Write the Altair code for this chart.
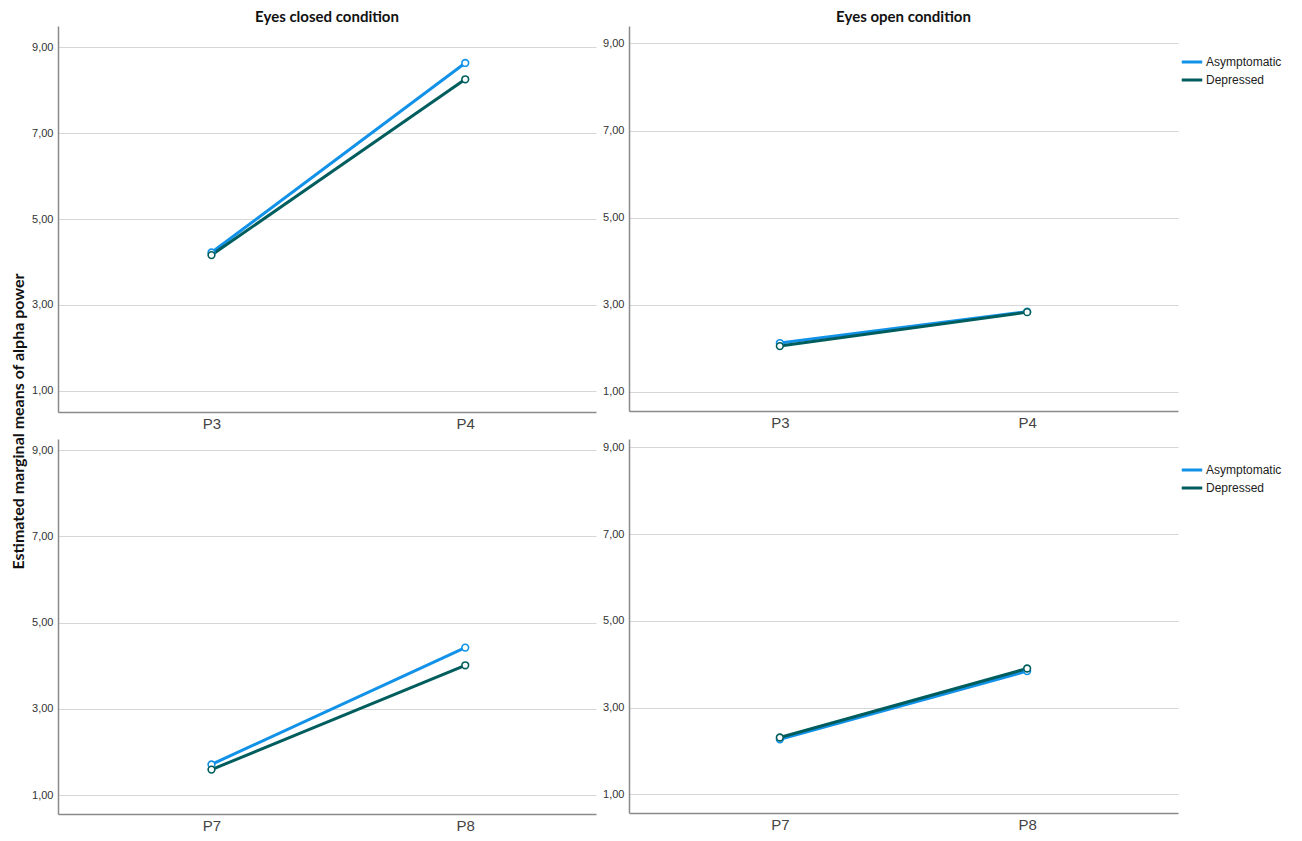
import altair as alt
import pandas as pd

groups = ["Asymptomatic", "Depressed"]
colors = ["#1192e8", "#005d5d"]
conditions = ["Eyes closed condition", "Eyes open condition"]
sites_top = ["P3", "P4"]
sites_bottom = ["P7", "P8"]
y_ticks = [1, 3, 5, 7, 9]
y_title = "Estimated marginal means of alpha power"

closed_p34_asym = [4.22, 8.63]
closed_p34_dep = [4.16, 8.25]
open_p34_asym = [2.12, 2.84]
open_p34_dep = [2.05, 2.83]
closed_p78_asym = [1.71, 4.42]
closed_p78_dep = [1.59, 4.01]
open_p78_asym = [2.27, 3.84]
open_p78_dep = [2.31, 3.90]


def make_df(sites, asym, dep):
    rows = []
    for g, vals in zip(groups, [asym, dep]):
        for s, v in zip(sites, vals):
            rows.append({"site": s, "group": g, "value": v})
    return pd.DataFrame(rows)


def panel(df, sites, domain, width, height, title=None, legend_y=None, pad=0.6, align=0.5):
    if legend_y is None:
        legend = None
    else:
        legend = alt.Legend(
            title=None, orient="none", legendX=width + 2, legendY=legend_y,
            symbolType="stroke", symbolSize=420, symbolStrokeWidth=3,
            labelFont="Liberation Sans", labelFontSize=12, labelColor="#222",
            rowPadding=0, labelOffset=2, padding=0,
        )
    color = alt.Color("group:N", scale=alt.Scale(domain=groups, range=colors), legend=legend)
    x = alt.X(
        "site:N",
        sort=sites,
        scale=alt.Scale(type="point", domain=sites, padding=pad, align=align),
        axis=alt.Axis(title=None, labelAngle=0, grid=False, ticks=False,
                      labelFontSize=15, labelColor="#444", labelPadding=4,
                      labelFont="Liberation Sans", domainColor="#8a8a8a", domainWidth=1.5),
    )
    y = alt.Y(
        "value:Q",
        scale=alt.Scale(domain=domain, nice=False, zero=False),
        axis=alt.Axis(title=None, values=y_ticks, ticks=False, grid=True,
                      labelExpr="replace(format(datum.value, '.2f'), '.', ',')",
                      labelFontSize=11, labelColor="#333", labelPadding=5,
                      labelFont="Liberation Sans", gridColor="#d6d6d6", gridWidth=1.2,
                      domainColor="#8a8a8a", domainWidth=1.5),
    )
    base = alt.Chart(df).encode(x=x, y=y, color=color)
    lines = base.mark_line(strokeWidth=3)
    pts = base.mark_point(filled=False, fill="white", size=45, strokeWidth=1.6, opacity=1)
    props = dict(width=width, height=height)
    if title:
        props["title"] = alt.TitleParams(title, font="Lato", fontSize=15, fontWeight="bold",
                                         color="#111", offset=1, anchor="middle")
    return alt.layer(lines, pts).properties(**props)


tl = panel(make_df(sites_top, closed_p34_asym, closed_p34_dep), sites_top, [0.51, 9.49], 538, 386,
           title=conditions[0], pad=0.56, align=0.54)
tr = panel(make_df(sites_top, open_p34_asym, open_p34_dep), sites_top, [0.56, 9.40], 549, 385,
           title=conditions[1], legend_y=24, pad=0.61)
bl = panel(make_df(sites_bottom, closed_p78_asym, closed_p78_dep), sites_bottom, [0.56, 9.26], 538, 375,
           pad=0.56, align=0.54)
br = panel(make_df(sites_bottom, open_p78_asym, open_p78_dep), sites_bottom, [0.57, 9.19], 549, 374,
           legend_y=19, pad=0.61)

row1 = alt.hconcat(tl, tr, spacing=6).resolve_scale(x="independent", y="independent", color="independent")
row2 = alt.hconcat(bl, br, spacing=6).resolve_scale(x="independent", y="independent", color="independent")

chart = alt.vconcat(row1, row2, spacing=8).resolve_scale(
    x="independent", y="independent", color="independent"
).properties(
    title=alt.TitleParams(y_title, orient="left", anchor="middle", font="Lato", fontSize=16,
                          fontWeight="bold", color="#111", offset=5),
    padding={"left": 2, "top": 2, "right": 2, "bottom": 0},
).configure_view(stroke=None)

chart.save("out.html", embed_options={"renderer": "svg", "actions": False})
